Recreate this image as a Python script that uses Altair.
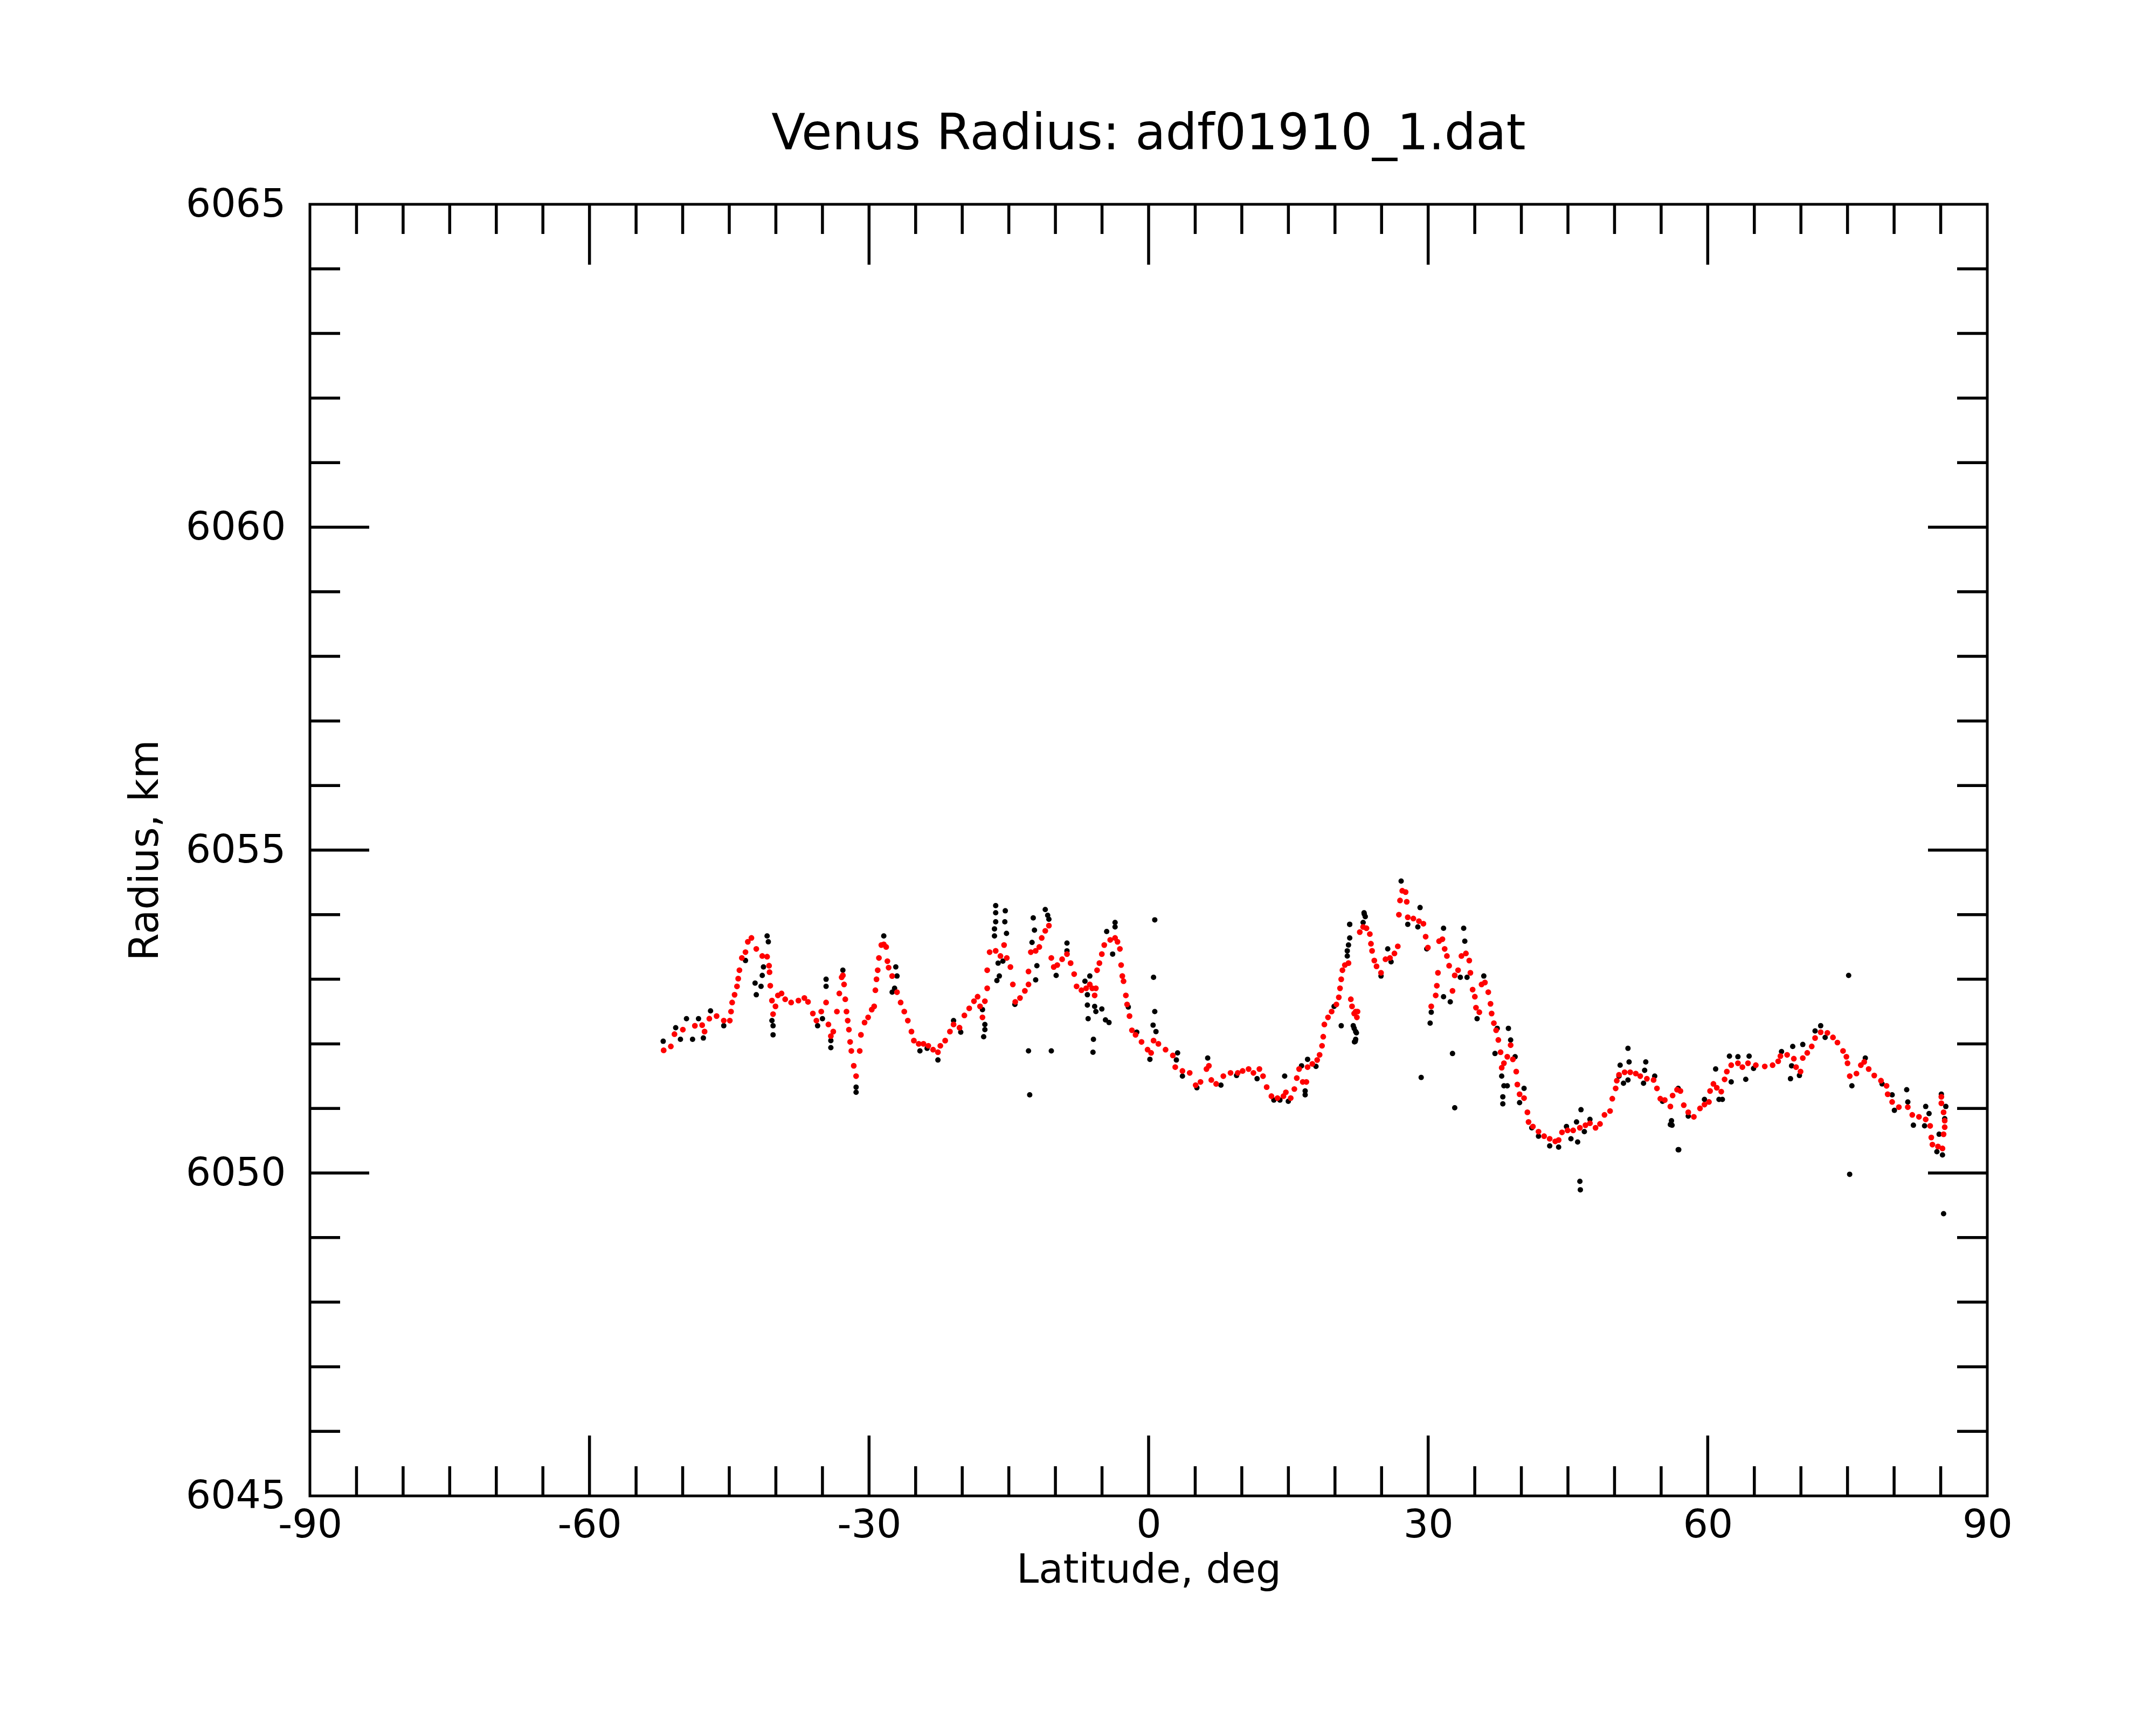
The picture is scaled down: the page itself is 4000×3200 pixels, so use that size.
import altair as alt
import pandas as pd

F = "DejaVu Sans"

# Smoothed radius (red)
red_lat = [-52.04, -51.27, -50.88, -49.98, -48.69, -47.91, -47.65, -47.14, -46.36, -45.59,
           -44.94, -44.81, -44.69, -44.43, -44.17, -44.04, -43.91, -43.65, -43.26, -43.01,
           -42.62, -42.10, -41.46, -40.94, -40.73, -40.68, -40.60, -40.42, -40.30, -40.04,
           -39.78, -39.39, -39.00, -38.36, -37.58, -36.94, -36.55, -36.03, -35.65, -35.13,
           -34.61, -34.36, -34.10, -33.84, -33.45, -33.19, -32.94, -32.81, -32.68, -32.55,
           -32.42, -32.29, -32.16, -32.03, -31.90, -31.64, -31.39, -31.00, -30.87, -30.48,
           -30.10, -29.71, -29.45, -29.32, -29.20, -29.07, -28.94, -28.68, -28.42, -28.16,
           -28.03, -27.90, -27.52, -27.00, -26.61, -26.22, -25.84, -25.45, -25.19, -24.67,
           -24.16, -23.64, -23.13, -22.61, -22.35, -21.83, -21.32, -20.93, -20.29, -19.77,
           -19.25, -18.74, -18.35, -18.09, -17.83, -17.57, -17.32, -17.32, -17.06, -16.41,
           -15.90, -15.51, -15.22, -14.83, -14.57, -14.31, -13.80, -13.28, -12.89, -12.89,
           -12.64, -12.12, -11.73, -11.47, -11.09, -10.70, -10.44, -10.18, -9.80, -9.28,
           -8.76, -8.37, -7.99, -7.73, -7.21, -6.70, -6.31, -6.05, -5.79, -5.66,
           -5.53, -5.28, -5.02, -4.76, -4.12, -3.60, -3.34, -3.08, -2.95, -2.82,
           -2.69, -2.44, -2.31, -2.05, -1.79, -1.40, -0.76, -0.11, 0.27, 0.53,
           1.05, 1.82, 2.60, 2.86, 3.63, 4.41, 5.05, 5.57, 6.21, 6.47,
           6.73, 7.25, 8.02, 8.79, 9.57, 10.09, 10.73, 11.25, 11.89, 12.28,
           12.67, 13.18, 13.83, 14.47, 14.73, 15.25, 15.64, 15.90, 16.15, 16.54,
           16.93, 17.06, 17.57, 18.09, 18.35, 18.61, 18.74, 18.86, 19.25, 19.64,
           20.15, 20.41, 20.54, 20.67, 20.80, 21.06, 21.45, 21.70, 21.83, 22.06,
           22.22, 22.35, 22.42, 22.66, 23.02, 23.38, 23.74, 23.86, 23.98, 24.22,
           24.46, 24.94, 25.42, 25.90, 26.38, 26.74, 26.86, 26.98, 27.22, 27.58,
           27.70, 27.81, 28.41, 29.01, 29.49, 29.73, 29.97, 30.33, 30.81, 30.93,
           31.05, 31.17, 31.53, 31.77, 32.01, 32.25, 32.61, 32.85, 33.21, 33.57,
           34.05, 34.41, 34.53, 34.77, 35.01, 35.13, 35.49, 35.73, 36.09, 36.45,
           36.69, 36.81, 37.05, 37.29, 37.53, 37.77, 37.89, 38.13, 38.49, 38.85,
           39.09, 39.45, 39.57, 39.81, 40.29, 40.65, 40.77, 41.24, 41.84, 42.44,
           43.04, 43.64, 44.00, 44.36, 44.96, 45.56, 46.28, 46.88, 47.36, 47.96,
           48.44, 48.92, 49.52, 49.76, 50.12, 50.24, 50.48, 51.08, 51.68, 52.28,
           52.76, 53.47, 54.19, 54.55, 54.91, 55.39, 55.99, 56.23, 56.71, 57.07,
           57.43, 57.91, 58.51, 59.17, 59.65, 60.13, 60.25, 60.61, 60.97, 61.45,
           61.81, 62.05, 62.52, 63.24, 63.72, 64.32, 65.16, 66.12, 66.96, 67.56,
           67.80, 68.52, 69.24, 69.48, 69.96, 70.20, 70.68, 71.16, 71.52, 72.12,
           72.84, 73.44, 73.92, 74.52, 74.88, 75.00, 75.24, 75.96, 76.43, 76.79,
           77.27, 77.87, 78.59, 79.19, 79.31, 79.79, 80.51, 81.47, 81.95, 82.67,
           83.39, 83.87, 83.99, 84.11, 84.71, 85.19, 85.07, 85.07, 85.31, 85.43,
           85.43, 85.31]
red_rad = [6051.90, 6051.96, 6052.15, 6052.22, 6052.28, 6052.29, 6052.19, 6052.39, 6052.43, 6052.36,
           6052.36, 6052.50, 6052.64, 6052.76, 6052.89, 6053.01, 6053.14, 6053.33, 6053.42, 6053.58,
           6053.64, 6053.47, 6053.36, 6053.35, 6053.21, 6053.11, 6052.90, 6052.67, 6052.46, 6052.58,
           6052.75, 6052.78, 6052.69, 6052.64, 6052.67, 6052.71, 6052.65, 6052.47, 6052.36, 6052.50,
           6052.64, 6052.30, 6052.12, 6052.19, 6052.50, 6052.78, 6053.03, 6053.06, 6052.92, 6052.69,
           6052.50, 6052.36, 6052.22, 6052.03, 6051.89, 6051.66, 6051.50, 6051.89, 6052.14, 6052.33,
           6052.41, 6052.53, 6052.58, 6052.83, 6053.00, 6053.14, 6053.33, 6053.53, 6053.54, 6053.50,
           6053.28, 6053.18, 6053.05, 6052.80, 6052.64, 6052.50, 6052.36, 6052.19, 6052.05, 6052.00,
           6052.00, 6051.97, 6051.91, 6051.87, 6051.97, 6052.05, 6052.19, 6052.30, 6052.25, 6052.44,
           6052.55, 6052.66, 6052.73, 6052.58, 6052.41, 6052.66, 6052.86, 6053.14, 6053.42, 6053.44,
           6053.36, 6053.53, 6053.33, 6053.19, 6052.92, 6052.65, 6052.71, 6052.82, 6052.92, 6053.12,
           6053.42, 6053.44, 6053.50, 6053.64, 6053.75, 6053.83, 6053.33, 6053.19, 6053.22, 6053.31,
           6053.39, 6053.25, 6053.08, 6052.89, 6052.83, 6052.86, 6052.92, 6052.86, 6052.75, 6052.86,
           6053.14, 6053.25, 6053.39, 6053.53, 6053.61, 6053.64, 6053.58, 6053.47, 6053.22, 6053.05,
           6052.97, 6052.75, 6052.61, 6052.43, 6052.21, 6052.14, 6052.03, 6051.91, 6051.86, 6052.05,
           6052.00, 6051.91, 6051.82, 6051.64, 6051.58, 6051.55, 6051.36, 6051.41, 6051.61, 6051.66,
           6051.44, 6051.38, 6051.50, 6051.55, 6051.55, 6051.58, 6051.61, 6051.55, 6051.61, 6051.50,
           6051.33, 6051.19, 6051.16, 6051.19, 6051.25, 6051.16, 6051.30, 6051.47, 6051.61, 6051.41,
           6051.41, 6051.64, 6051.69, 6051.75, 6051.83, 6051.97, 6052.11, 6052.30, 6052.41, 6052.50,
           6052.61, 6052.72, 6052.86, 6053.00, 6053.14, 6053.22, 6053.25, 6052.69, 6052.58, 6052.47,
           6052.50, 6052.41, 6052.50, 6053.73, 6053.81, 6053.79, 6053.70, 6053.55, 6053.44, 6053.29,
           6053.20, 6053.10, 6053.31, 6053.33, 6053.40, 6053.51, 6054.00, 6054.22, 6054.37, 6054.35,
           6054.20, 6053.96, 6053.94, 6053.90, 6053.86, 6053.66, 6053.49, 6052.58, 6052.75, 6052.90,
           6053.10, 6053.59, 6053.62, 6053.47, 6053.36, 6053.21, 6052.82, 6053.06, 6053.14, 6053.36,
           6053.40, 6053.29, 6053.10, 6052.84, 6052.73, 6052.56, 6052.49, 6052.92, 6052.95, 6052.80,
           6052.62, 6052.47, 6052.32, 6052.21, 6052.06, 6051.87, 6051.63, 6051.70, 6051.80, 6051.98,
           6051.76, 6051.57, 6051.37, 6051.22, 6051.16, 6050.94, 6050.79, 6050.72, 6050.64, 6050.57,
           6050.53, 6050.49, 6050.51, 6050.63, 6050.66, 6050.66, 6050.70, 6050.74, 6050.77, 6050.70,
           6050.76, 6050.90, 6050.96, 6051.15, 6051.31, 6051.43, 6051.52, 6051.56, 6051.56, 6051.54,
           6051.50, 6051.46, 6051.44, 6051.31, 6051.15, 6051.13, 6051.03, 6051.20, 6051.29, 6051.27,
           6051.05, 6050.94, 6050.87, 6051.00, 6051.06, 6051.10, 6051.27, 6051.38, 6051.32, 6051.26,
           6051.45, 6051.57, 6051.67, 6051.70, 6051.64, 6051.70, 6051.67, 6051.65, 6051.67, 6051.73,
           6051.81, 6051.83, 6051.77, 6051.64, 6051.57, 6051.78, 6051.86, 6051.96, 6052.09, 6052.18,
           6052.17, 6052.10, 6052.02, 6051.89, 6051.80, 6051.70, 6051.50, 6051.54, 6051.67, 6051.72,
           6051.61, 6051.51, 6051.43, 6051.35, 6051.22, 6051.10, 6051.02, 6051.02, 6050.90, 6050.87,
           6050.83, 6050.73, 6050.55, 6050.44, 6050.41, 6050.38, 6051.18, 6051.08, 6050.94, 6050.81,
           6050.71, 6050.60]

# Raw radius (black)
blk_lat = [-52.09, -50.75, -50.24, -49.59, -48.94, -48.30, -47.78, -47.01, -45.59, -43.26,
           -42.23, -42.10, -41.59, -41.33, -41.46, -40.94, -40.81, -40.42, -40.30, -40.30,
           -35.52, -34.61, -34.61, -35.00, -34.10, -34.10, -32.81, -31.39, -31.39, -28.42,
           -27.13, -27.26, -27.52, -27.00, -24.54, -22.61, -23.77, -20.93, -20.16, -17.70,
           -17.57, -17.57, -17.83, -16.41, -16.41, -16.41, -16.54, -16.54, -15.38, -15.43,
           -15.25, -16.15, -15.64, -16.02, -16.28, -14.35, -12.89, -12.76, -10.44, -12.38,
           -12.25, -12.51, -11.99, -12.12, -11.09, -10.83, -10.70, -9.92, -8.76, -8.76,
           -6.83, -6.31, -6.57, -6.57, -6.49, -5.79, -5.66, -5.02, -4.63, -4.25,
           -5.92, -5.97, -3.86, -3.60, -3.60, -4.50, 0.66, 0.53, 0.66, 0.48,
           0.79, 0.14, 2.98, 3.11, 6.34, 3.63, 5.18, 7.76, 9.44, 11.64,
           13.44, 14.09, 16.41, 17.96, -1.27, -2.18, 14.60, 14.99, 16.80, 16.80,
           17.06, 19.90, 20.67, 21.32, 21.32, 21.45, 21.58, 21.96, 22.22, 22.22,
           22.09, 23.12, 23.25, 21.58, 21.58, 22.06, 22.30, 22.18, 23.14, 23.02,
           24.94, 25.66, 26.02, 27.10, 27.81, 28.89, 29.13, 29.85, 30.21, 30.33,
           29.25, 31.65, 31.65, 32.37, 32.61, 32.85, 33.81, 33.93, 33.45, 34.17,
           35.25, 35.97, 37.41, 37.17, 37.89, 38.13, 38.01, 38.01, 38.61, 38.85,
           39.33, 38.49, 40.29, 39.81, 41.12, 41.84, 43.04, 44.00, 44.84, 45.32,
           46.04, 45.92, 46.40, 46.76, 46.28, 46.33, 47.36, 50.60, 50.48, 50.96,
           51.44, 51.56, 51.44, 53.11, 53.35, 53.23, 54.31, 55.15, 55.99, 56.11,
           56.83, 56.83, 57.91, 56.17, 56.89, 59.65, 60.85, 61.21, 61.57, 62.33,
           62.52, 63.24, 64.08, 64.44, 64.92, 67.92, 69.12, 69.00, 68.88, 69.84,
           70.20, 72.12, 71.52, 72.60, 75.12, 75.47, 75.23, 76.91, 78.71, 79.79,
           81.35, 81.47, 80.03, 82.07, 83.39, 83.75, 83.27, 84.59, 85.19, 85.07,
           85.55, 85.43, 84.83, 85.31]
blk_rad = [6052.04, 6052.25, 6052.07, 6052.39, 6052.07, 6052.39, 6052.09, 6052.51, 6052.28, 6053.29,
           6052.94, 6052.76, 6052.89, 6053.19, 6053.06, 6053.67, 6053.58, 6052.36, 6052.28, 6052.14,
           6052.28, 6053.00, 6052.89, 6052.39, 6051.94, 6052.05, 6053.14, 6051.33, 6051.25, 6053.67,
           6053.19, 6052.86, 6052.80, 6053.05, 6051.89, 6051.75, 6051.93, 6052.36, 6052.18, 6052.11,
           6052.22, 6052.30, 6052.53, 6054.14, 6054.03, 6053.89, 6053.78, 6053.67, 6054.06, 6053.89,
           6053.71, 6053.25, 6053.28, 6053.05, 6052.98, 6052.61, 6051.89, 6051.21, 6051.89, 6053.95,
           6053.76, 6053.57, 6053.21, 6052.99, 6054.08, 6053.99, 6053.93, 6053.06, 6053.56, 6053.44,
           6052.97, 6053.05, 6052.76, 6052.60, 6052.39, 6052.58, 6052.50, 6052.54, 6052.37, 6052.33,
           6052.07, 6051.87, 6053.39, 6053.88, 6053.81, 6053.74, 6053.92, 6053.03, 6052.50, 6052.29,
           6052.19, 6051.76, 6051.75, 6051.86, 6051.78, 6051.50, 6051.32, 6051.36, 6051.51, 6051.46,
           6051.13, 6051.13, 6051.66, 6051.65, 6052.18, 6052.57, 6051.50, 6051.11, 6051.21, 6051.27,
           6051.76, 6052.58, 6052.28, 6053.36, 6053.44, 6053.53, 6053.85, 6052.28, 6052.19, 6052.07,
           6052.03, 6054.03, 6053.97, 6053.85, 6053.64, 6052.24, 6052.17, 6052.04, 6054.01, 6053.88,
           6053.05, 6053.47, 6053.27, 6054.52, 6053.85, 6053.81, 6054.11, 6053.47, 6052.32, 6052.49,
           6051.48, 6053.79, 6052.73, 6052.65, 6051.85, 6051.01, 6053.79, 6053.59, 6053.03, 6053.03,
           6052.39, 6053.05, 6052.24, 6051.85, 6051.50, 6051.35, 6051.18, 6051.07, 6052.24, 6052.06,
           6051.80, 6051.35, 6051.31, 6051.09, 6050.70, 6050.57, 6050.42, 6050.40, 6050.72, 6050.53,
           6050.48, 6050.79, 6050.98, 6050.64, 6049.87, 6049.74, 6050.83, 6051.67, 6051.50, 6051.39,
           6051.93, 6051.72, 6051.44, 6051.39, 6051.72, 6051.59, 6051.50, 6051.11, 6050.75, 6050.81,
           6050.36, 6051.31, 6050.88, 6050.74, 6050.36, 6051.14, 6051.61, 6051.14, 6051.14, 6051.81,
           6051.41, 6051.80, 6051.45, 6051.81, 6051.62, 6051.88, 6051.96, 6051.66, 6051.46, 6051.51,
           6051.99, 6052.28, 6052.20, 6052.10, 6053.06, 6051.35, 6049.98, 6051.78, 6051.38, 6051.21,
           6051.29, 6051.10, 6050.97, 6050.74, 6051.03, 6050.92, 6050.73, 6050.33, 6050.28, 6051.22,
           6051.03, 6050.84, 6050.60, 6049.37]

x_labels = [-90, -60, -30, 0, 30, 60, 90]
y_labels = [6045, 6050, 6055, 6060, 6065]
x_minor = [-85, -80, -75, -70, -65, -55, -50, -45, -40, -35, -25, -20, -15, -10, -5,
           5, 10, 15, 20, 25, 35, 40, 45, 50, 55, 65, 70, 75, 80, 85]
x_major = [-60, -30, 0, 30, 60]
y_minor = [6046, 6047, 6048, 6049, 6051, 6052, 6053, 6054,
           6056, 6057, 6058, 6059, 6061, 6062, 6063, 6064]
y_major = [6050, 6055, 6060]

W, H = 3112, 2396
xs = alt.Scale(domain=[-90, 90], nice=False, zero=False)
ys = alt.Scale(domain=[6045, 6065], nice=False, zero=False)

red_df = pd.DataFrame({"lat": red_lat, "r": red_rad})
blk_df = pd.DataFrame({"lat": blk_lat, "r": blk_rad})

x_axis = alt.Axis(values=x_labels, title="Latitude, deg", grid=False, ticks=False, tickSize=0,
                  domain=False, labelFlush=False, labelOverlap=False, labelPadding=18,
                  labelFontSize=73, labelFont=F, labelColor="black", labelLimit=0,
                  labelExpr="'' + datum.value",
                  titleFontSize=74, titleFont=F, titleFontWeight="normal", titleColor="black",
                  titleY=160, titleBaseline="alphabetic")
y_axis = alt.Axis(values=y_labels, title="Radius, km", grid=False, ticks=False, tickSize=0,
                  domain=False, labelFlush=False, labelOverlap=False, labelPadding=45,
                  labelFontSize=73, labelFont=F, labelColor="black", labelLimit=0,
                  labelExpr="'' + datum.value",
                  titleFontSize=74, titleFont=F, titleFontWeight="normal", titleColor="black",
                  titleX=-283, titleBaseline="alphabetic", titleAngle=270)

X = lambda f: alt.X(f, scale=xs, axis=x_axis)
Y = lambda f: alt.Y(f, scale=ys, axis=y_axis)

blk = alt.Chart(blk_df).mark_circle(size=100, opacity=1, color="black").encode(
    x=X("lat:Q"), y=Y("r:Q"))
red = alt.Chart(red_df).mark_circle(size=115, opacity=1, color="#ff0000").encode(
    x=X("lat:Q"), y=Y("r:Q"))

def xticks(vals, length):
    d = pd.DataFrame({"lat": vals})
    top = alt.Chart(d).mark_rule(color="black", strokeWidth=5.5).encode(
        x=X("lat:Q"), y=alt.value(0), y2=alt.value(length))
    bot = alt.Chart(d).mark_rule(color="black", strokeWidth=5.5).encode(
        x=X("lat:Q"), y=alt.value(H), y2=alt.value(H - length))
    return [top, bot]

def yticks(vals, length):
    d = pd.DataFrame({"r": vals})
    left = alt.Chart(d).mark_rule(color="black", strokeWidth=5.5).encode(
        y=Y("r:Q"), x=alt.value(0), x2=alt.value(length))
    right = alt.Chart(d).mark_rule(color="black", strokeWidth=5.5).encode(
        y=Y("r:Q"), x=alt.value(W), x2=alt.value(W - length))
    return [left, right]

layers = [blk, red] + xticks(x_minor, 55) + xticks(x_major, 112) + yticks(y_minor, 56) + yticks(y_major, 110)

chart = alt.layer(*layers).properties(
    width=W, height=H,
    autosize="none",
    padding={"left": 567, "top": 371, "right": 305, "bottom": 417},
    title=alt.TitleParams(text="Venus Radius: adf01910_1.dat", fontSize=92, font=F,
                          fontWeight="normal", color="black", anchor="middle",
                          frame="group", baseline="alphabetic", offset=97, dy=123),
).configure(background="white", view=alt.ViewConfig(stroke="black", strokeWidth=5))

chart.save("out.html", embed_options={"renderer": "svg", "actions": False})
